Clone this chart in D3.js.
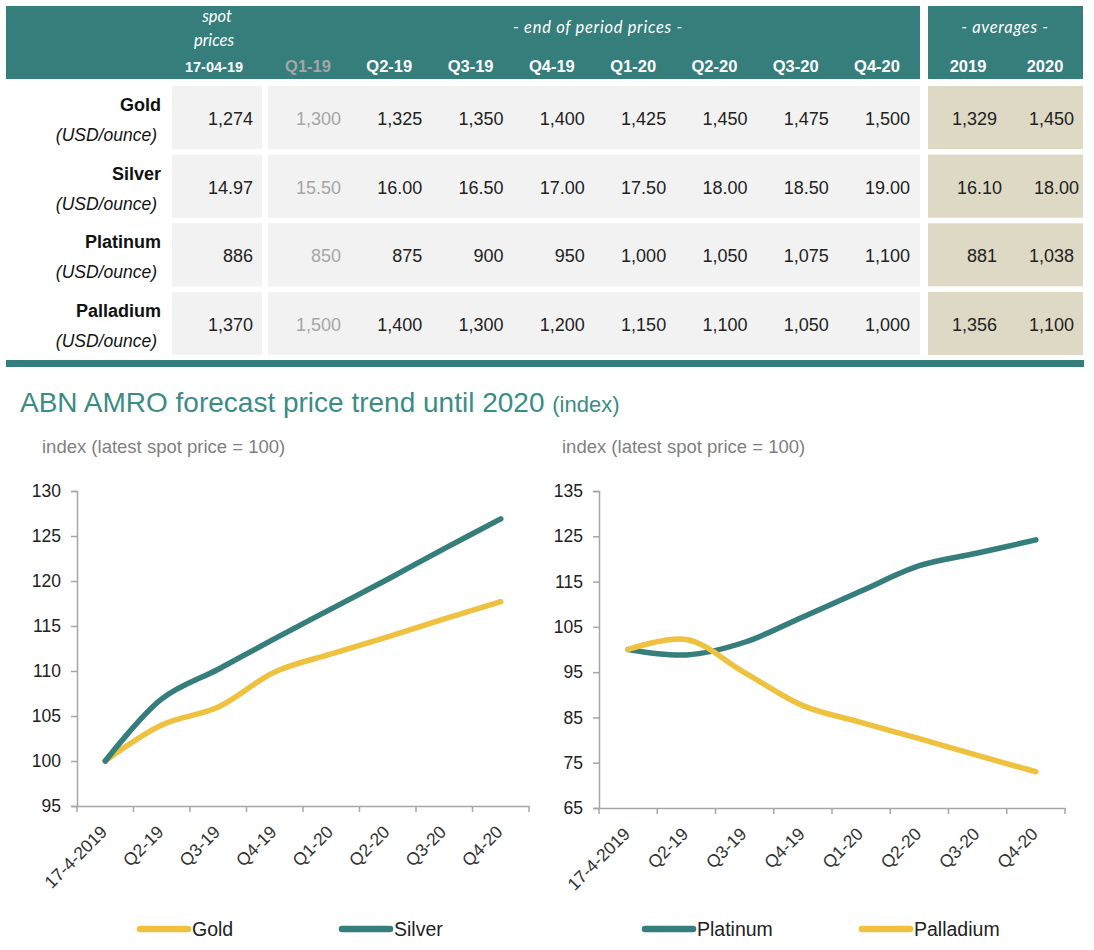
<!DOCTYPE html>
<html><head><meta charset="utf-8">
<script src="https://cdn.jsdelivr.net/npm/d3@7"></script>
<style>
html,body{margin:0;padding:0;background:#fff;}
svg text{font-family:"Liberation Sans",Arial,sans-serif;}
</style></head>
<body>
<svg id="c" width="1094" height="950"></svg>
<script>
// ---------- DATA ----------
const periodHeaders = ["Q1-19","Q2-19","Q3-19","Q4-19","Q1-20","Q2-20","Q3-20","Q4-20"];
const avgHeaders = ["2019","2020"];
const metals = ["Gold","Silver","Platinum","Palladium"];
const units = "(USD/ounce)";
const spotDate = "17-04-19";
const spotPrices = [1274, 14.97, 886, 1370];
const goldPrices = [1300,1325,1350,1400,1425,1450,1475,1500];
const silverPrices = [15.50,16.00,16.50,17.00,17.50,18.00,18.50,19.00];
const platinumPrices = [850,875,900,950,1000,1050,1075,1100];
const palladiumPrices = [1500,1400,1300,1200,1150,1100,1050,1000];
const goldAvg = [1329,1450];
const silverAvg = [16.10,18.00];
const platinumAvg = [881,1038];
const palladiumAvg = [1356,1100];

const chartCategories = ["17-4-2019","Q2-19","Q3-19","Q4-19","Q1-20","Q2-20","Q3-20","Q4-20"];
const goldIndex = [100,104.0,106.0,109.9,111.9,113.8,115.8,117.7];
const silverIndex = [100,106.9,110.2,113.6,116.9,120.2,123.6,126.9];
const platinumIndex = [100,98.8,101.6,107.2,112.9,118.5,121.3,124.2];
const palladiumIndex = [100,102.2,94.9,87.6,83.9,80.3,76.6,73.0];
const leftTicks = [95,100,105,110,115,120,125,130];
const rightTicks = [65,75,85,95,105,115,125,135];

// ---------- STYLE ----------
const TEAL = "#357e7b", GOLDC = "#eec13f", CELL = "#f2f2f2", AVGC = "#ddd9c4";
const svg = d3.select("#c");

// ---------- TABLE ----------
svg.append("rect").attr("x",6).attr("y",6).attr("width",914).attr("height",73).attr("fill",TEAL);
svg.append("rect").attr("x",928).attr("y",6).attr("width",155).attr("height",73).attr("fill",TEAL);

const italicFont = "Lato, 'Open Sans', sans-serif";
svg.append("text").attr("x",217).attr("y",22).attr("text-anchor","middle").attr("fill","#fff")
  .style("font-family",italicFont).style("font-style","italic").style("font-size","16.5px").text("spot");
svg.append("text").attr("x",214).attr("y",46).attr("text-anchor","middle").attr("fill","#fff")
  .style("font-family",italicFont).style("font-style","italic").style("font-size","16.5px").text("prices");
svg.append("text").attr("x",214).attr("y",72).attr("text-anchor","middle").attr("fill","#fff")
  .style("font-weight","bold").style("font-size","14.5px").text(spotDate);
svg.append("text").attr("x",598).attr("y",33).attr("text-anchor","middle").attr("fill","#fff")
  .style("font-family",italicFont).style("font-style","italic").style("font-size","16.5px").style("letter-spacing","0.7px").text("- end of period prices -");
svg.append("text").attr("x",1005).attr("y",33).attr("text-anchor","middle").attr("fill","#fff")
  .style("font-family",italicFont).style("font-style","italic").style("font-size","16.5px").style("letter-spacing","0.7px").text("- averages -");

const periodRight = d3.scalePoint().domain(periodHeaders).range([341,910]);
const avgRight = d3.scalePoint().domain(avgHeaders).range([997,1074]);

svg.selectAll("text.ph").data(periodHeaders).join("text").attr("class","ph")
  .attr("x",d=>periodRight(d)-33).attr("y",72).attr("text-anchor","middle")
  .attr("fill",(d,i)=>i===0?"#a6a6a6":"#fff").style("font-weight","bold").style("font-size","16.5px").text(d=>d);
svg.selectAll("text.ah").data(avgHeaders).join("text").attr("class","ah")
  .attr("x",d=>avgRight(d)-29).attr("y",72).attr("text-anchor","middle")
  .attr("fill","#fff").style("font-weight","bold").style("font-size","16.5px").text(d=>d);

const rows = [
  {name:metals[0], spot:spotPrices[0], p:goldPrices, a:goldAvg, fmt:d3.format(",.0f"), shift:0},
  {name:metals[1], spot:spotPrices[1], p:silverPrices, a:silverAvg, fmt:d3.format(".2f"), shift:5},
  {name:metals[2], spot:spotPrices[2], p:platinumPrices, a:platinumAvg, fmt:d3.format(",.0f"), shift:0},
  {name:metals[3], spot:spotPrices[3], p:palladiumPrices, a:palladiumAvg, fmt:d3.format(",.0f"), shift:0}
];
const rowTop = d3.scalePoint().domain(metals).range([86,292]);
rows.forEach(r=>{
  const y0 = rowTop(r.name);
  const g = svg.append("g");
  g.append("rect").attr("x",172).attr("y",y0).attr("width",90).attr("height",63).attr("fill",CELL);
  g.append("rect").attr("x",268).attr("y",y0).attr("width",652).attr("height",63).attr("fill",CELL);
  g.append("rect").attr("x",928).attr("y",y0).attr("width",155).attr("height",63).attr("fill",AVGC);
  g.append("text").attr("x",161).attr("y",y0+25).attr("text-anchor","end").attr("fill","#111")
    .style("font-weight","bold").style("font-size","18px").text(r.name);
  g.append("text").attr("x",157).attr("y",y0+55).attr("text-anchor","end").attr("fill","#111")
    .style("font-style","italic").style("font-size","17.5px").text(units);
  g.append("text").attr("x",253).attr("y",y0+39).attr("text-anchor","end").attr("fill","#222")
    .style("font-size","18px").text(r.fmt(r.spot));
  r.p.forEach((v,i)=>{
    g.append("text").attr("x",periodRight(periodHeaders[i])).attr("y",y0+39).attr("text-anchor","end")
      .attr("fill",i===0?"#a6a6a6":"#222").style("font-size","18px").text(r.fmt(v));
  });
  r.a.forEach((v,i)=>{
    g.append("text").attr("x",avgRight(avgHeaders[i])+r.shift).attr("y",y0+39).attr("text-anchor","end")
      .attr("fill","#222").style("font-size","18px").text(r.fmt(v));
  });
});
svg.append("rect").attr("x",6).attr("y",360).attr("width",1078).attr("height",7).attr("fill",TEAL);

// ---------- TITLES ----------
const title = svg.append("text").attr("x",20).attr("y",412).attr("fill","#3b8c85").style("font-size","28px");
title.append("tspan").text("ABN AMRO forecast price trend until 2020 ");
title.append("tspan").style("font-size","22px").text("(index)");
svg.append("text").attr("x",42).attr("y",453).attr("fill","#7f7f7f").style("font-size","18.5px").text("index (latest spot price = 100)");
svg.append("text").attr("x",562).attr("y",453).attr("fill","#7f7f7f").style("font-size","18.5px").text("index (latest spot price = 100)");

// ---------- CHARTS ----------
function drawChart(opt){
  const x = d3.scaleBand().domain(chartCategories).range([opt.x0,opt.x1]);
  const y = d3.scaleLinear().domain([opt.ticks[0],opt.ticks[opt.ticks.length-1]]).range([opt.yB,opt.yT]);
  const g = svg.append("g");
  // y axis
  const ya = g.append("g").attr("transform",`translate(${opt.x0},0)`)
    .call(d3.axisLeft(y).tickValues(opt.ticks).tickSize(6).tickPadding(10));
  ya.select(".domain").attr("stroke","#a6a6a6").attr("stroke-width",1.5);
  ya.selectAll(".tick line").attr("stroke","#a6a6a6").attr("stroke-width",1.5);
  ya.selectAll(".tick text").attr("fill","#222").style("font-size","17.5px").style("font-family","'Liberation Sans',Arial,sans-serif");
  // x axis
  const xa = g.append("g").attr("transform",`translate(0,${opt.yB})`)
    .call(d3.axisBottom(x).tickSize(0).tickFormat(""));
  xa.select(".domain").attr("stroke","#a6a6a6").attr("stroke-width",1.5);
  const bounds = chartCategories.map(c=>x(c)).concat([opt.x1]);
  g.selectAll("line.xt").data(bounds).join("line").attr("class","xt")
    .attr("x1",d=>d).attr("x2",d=>d).attr("y1",opt.yB).attr("y2",opt.yB+6)
    .attr("stroke","#a6a6a6").attr("stroke-width",1.5);
  g.selectAll("text.xl").data(chartCategories).join("text").attr("class","xl")
    .attr("transform",d=>`translate(${x(d)+x.bandwidth()/2+3},${opt.yB+27}) rotate(-45)`)
    .attr("text-anchor","end").attr("fill","#333").style("font-size","17.5px").text(d=>d);
  // lines
  const line = d3.line().x((d,i)=>x(chartCategories[i])+x.bandwidth()/2).y(d=>y(d)).curve(d3.curveCatmullRom.alpha(0.5));
  opt.series.forEach(s=>{
    g.append("path").attr("d",line(s.values)).attr("fill","none").attr("stroke",s.color)
      .attr("stroke-width",5.5).attr("stroke-linecap","round").attr("stroke-linejoin","round");
  });
  // legend
  opt.series.forEach((s,i)=>{
    const lx = opt.legendX[i];
    g.append("line").attr("x1",lx).attr("x2",lx+48).attr("y1",opt.legendY).attr("y2",opt.legendY)
      .attr("stroke",s.color).attr("stroke-width",6.5).attr("stroke-linecap","round");
    g.append("text").attr("x",lx+52).attr("y",opt.legendY+7).attr("fill","#222")
      .style("font-family","'Liberation Sans Narrow','Arial Narrow','Liberation Sans',sans-serif").style("font-size","19.5px").text(s.name);
  });
}
drawChart({x0:77,x1:529,yT:491,yB:806,ticks:leftTicks,legendY:929,legendX:[140,342],
  series:[{name:"Gold",values:goldIndex,color:GOLDC},{name:"Silver",values:silverIndex,color:TEAL}]});
drawChart({x0:599,x1:1065,yT:491,yB:808,ticks:rightTicks,legendY:929,legendX:[645,862],
  series:[{name:"Platinum",values:platinumIndex,color:TEAL},{name:"Palladium",values:palladiumIndex,color:GOLDC}]});
</script>
</body></html>
